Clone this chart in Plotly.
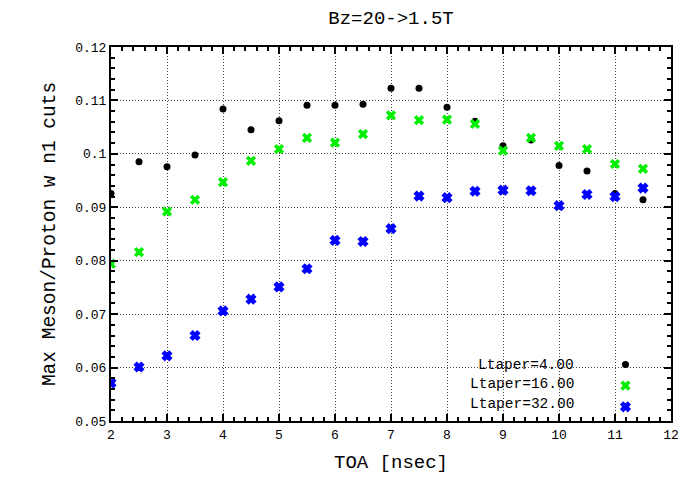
import plotly.graph_objects as go

toa = [2, 2.5, 3, 3.5, 4, 4.5, 5, 5.5, 6, 6.5, 7, 7.5, 8, 8.5, 9, 9.5, 10, 10.5, 11, 11.5]
lt4 = [0.0926, 0.0985, 0.0976, 0.0998, 0.1084, 0.1045, 0.1062, 0.1091, 0.1091, 0.1093,
       0.1123, 0.1123, 0.1087, 0.1061, 0.1015, 0.1026, 0.0978, 0.0968, 0.0926, 0.0914]
lt16 = [0.0794, 0.0816, 0.0892, 0.0914, 0.0947, 0.0987, 0.1009, 0.1030, 0.1021, 0.1037,
        0.1072, 0.1063, 0.1064, 0.1056, 0.1006, 0.1030, 0.1015, 0.1009, 0.0981, 0.0972]
lt32 = [0.0571, 0.0601, 0.0622, 0.0660, 0.0706, 0.0728, 0.0751, 0.0785, 0.0838, 0.0836,
        0.0860, 0.0921, 0.0918, 0.0930, 0.0932, 0.0931, 0.0903, 0.0924, 0.0920, 0.0936]
series_names = ["Ltaper=4.00", "Ltaper=16.00", "Ltaper=32.00"]
ytickvals = [0.05, 0.06, 0.07, 0.08, 0.09, 0.10, 0.11, 0.12]
yticktext = ["0.05", "0.06", "0.07", "0.08", "0.09", "0.1", "0.11", "0.12"]
xtickvals = [2, 3, 4, 5, 6, 7, 8, 9, 10, 11, 12]

FONT = "Liberation Mono, Courier New, monospace"

fig = go.Figure()
fig.add_trace(go.Scatter(x=toa, y=lt4, mode="markers", name=" ",
                         marker=dict(symbol="circle", size=7, color="black")))
fig.add_trace(go.Scatter(x=toa, y=lt16, mode="markers", name=" ",
                         marker=dict(symbol="x", size=9, color="#00ee00",
                                     line=dict(width=0))))
fig.add_trace(go.Scatter(x=toa, y=lt32, mode="markers", name=" ",
                         marker=dict(symbol="x", size=8, color="#0000ff",
                                     line=dict(width=1.5, color="#0000ff"))))

# white legend box covering the grid
fig.add_shape(type="rect", xref="paper", yref="paper", x0=0.55, x1=0.979,
              y0=0.024, y1=0.177, fillcolor="white", line=dict(width=0), layer="between")

leg_y = [0.150, 0.098, 0.045]
for name, yy in zip(series_names, leg_y):
    fig.add_annotation(text=name, xref="paper", yref="paper", x=0.831, y=yy,
                       xanchor="right", yanchor="middle", showarrow=False,
                       font=dict(family=FONT, size=14.5, color="black"))

axis_common = dict(
    showline=True, linewidth=2, linecolor="black", mirror="ticks",
    ticks="inside", ticklen=7, tickwidth=1.5, tickcolor="black",
    showgrid=True, gridcolor="#444444", griddash="1px,2px", gridwidth=1,
    zeroline=False, tickfont=dict(family=FONT, size=13, color="black"),
)

fig.update_xaxes(range=[2, 12], tickvals=xtickvals, ticktext=[str(v) for v in xtickvals],
                 minor=dict(dtick=0.2, ticks="inside", ticklen=4, tickcolor="black", showgrid=False),
                 title=dict(text="TOA [nsec]", font=dict(family=FONT, size=19, color="black"),
                            standoff=13),
                 **axis_common)
fig.update_yaxes(range=[0.05, 0.12], tickvals=ytickvals, ticktext=yticktext,
                 minor=dict(dtick=0.002, ticks="inside", ticklen=4, tickcolor="black", showgrid=False),
                 title=dict(text="Max Meson/Proton w n1 cuts",
                            font=dict(family=FONT, size=19.5, color="black"), standoff=14),
                 **axis_common)

fig.update_layout(
    width=691, height=482,
    margin=dict(l=111, r=15, t=47, b=61),
    paper_bgcolor="white", plot_bgcolor="white",
    title=dict(text="Bz=20->1.5T", x=0.5, xref="paper", y=0.965, yanchor="middle",
               font=dict(family=FONT, size=19, color="black")),
    showlegend=True,
    legend=dict(x=0.883, y=0.193, xanchor="left", yanchor="top",
                bgcolor="rgba(0,0,0,0)", borderwidth=0,
                font=dict(family=FONT, size=14), itemwidth=30, tracegroupgap=0),
)

fig.write_html("out.html")
